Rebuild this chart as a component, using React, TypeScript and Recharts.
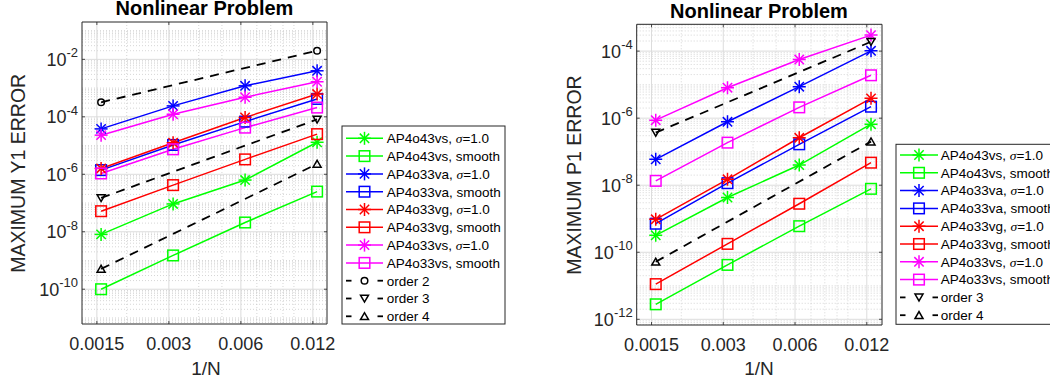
import React from 'react';
import { LineChart, Line, XAxis, YAxis, CartesianGrid, ReferenceArea } from 'recharts';

const FONT = '"Liberation Sans", Arial, Helvetica, sans-serif';
const SERIF = '"Liberation Serif", "DejaVu Serif", serif';
const AXIS = '#262626';

// ---------- data ----------
const invN = [0.0015625, 0.003125, 0.00625, 0.0125];
const xTicks = [0.0015, 0.003, 0.006, 0.012];
const xMinor = [0.002, 0.004, 0.005, 0.007, 0.008, 0.009, 0.01];

// Left panel: maximum Y1 error
const y1_AP4o43vs_sigma = [8.1e-9, 9.3e-8, 6.3e-7, 1.3e-5];
const y1_AP4o43vs_smooth = [1.0e-10, 1.5e-9, 2.1e-8, 2.5e-7];
const y1_AP4o33va_sigma = [3.8e-5, 2.4e-4, 1.2e-3, 4.0e-3];
const y1_AP4o33va_smooth = [1.4e-6, 1.05e-5, 6.8e-5, 4.2e-4];
const y1_AP4o33vg_sigma = [1.6e-6, 1.26e-5, 9.5e-5, 6.2e-4];
const y1_AP4o33vg_smooth = [5.2e-8, 4.2e-7, 3.3e-6, 2.5e-5];
const y1_AP4o33vs_sigma = [2.3e-5, 1.23e-4, 4.8e-4, 1.66e-3];
const y1_AP4o33vs_smooth = [1.07e-6, 7.4e-6, 4.2e-5, 2.1e-4];
const y1_order2 = [3.2e-4, null, null, 2.0e-2];
const y1_order3 = [1.5e-7, null, null, 8.1e-5];
const y1_order4 = [5.1e-10, null, null, 2.3e-6];
const y1Ticks = [1e-10, 1e-8, 1e-6, 1e-4, 1e-2];

// Right panel: maximum P1 error
const p1_AP4o43vs_sigma = [3.2e-10, 4.3e-9, 4.0e-8, 6.6e-7];
const p1_AP4o43vs_smooth = [2.8e-12, 4.2e-11, 6.0e-10, 7.8e-9];
const p1_AP4o33va_sigma = [5.9e-8, 7.8e-7, 8.7e-6, 1.02e-4];
const p1_AP4o33va_smooth = [7.1e-10, 1.15e-8, 1.66e-7, 2.2e-6];
const p1_AP4o33vg_sigma = [9.6e-10, 1.5e-8, 2.6e-7, 3.9e-6];
const p1_AP4o33vg_smooth = [1.12e-11, 1.78e-10, 2.8e-9, 4.7e-8];
const p1_AP4o33vs_sigma = [8.7e-7, 8.1e-6, 5.6e-5, 3.0e-4];
const p1_AP4o33vs_smooth = [1.35e-8, 1.86e-7, 2.1e-6, 1.9e-5];
const p1_order3 = [3.7e-7, null, null, 1.9e-4];
const p1_order4 = [5.2e-11, null, null, 2.0e-7];
const p1Ticks = [1e-12, 1e-10, 1e-8, 1e-6, 1e-4];

const leftXDomain = [0.0013, 0.01375];
const leftYDomain = [Math.pow(10, -11.21), Math.pow(10, -0.7)];
const rightXDomain = [0.0013, 0.0139];
const rightYDomain = [Math.pow(10, -12.17), Math.pow(10, -3.2)];

type MarkerType = 'star' | 'square' | 'circle' | 'tdown' | 'tup';
type Series = { key: string; values: (number | null)[]; color: string; marker: MarkerType; dashed?: boolean; label: string; sigma?: boolean };

const GREEN = '#00ff00';
const BLUE = '#0000ff';
const RED = '#ff0000';
const MAGENTA = '#ff00ff';
const BLACK = '#000000';

const leftSeries: Series[] = [
  { key: 'gs', values: y1_AP4o43vs_sigma, color: GREEN, marker: 'star', label: 'AP4o43vs, ', sigma: true },
  { key: 'gq', values: y1_AP4o43vs_smooth, color: GREEN, marker: 'square', label: 'AP4o43vs, smooth' },
  { key: 'bs', values: y1_AP4o33va_sigma, color: BLUE, marker: 'star', label: 'AP4o33va, ', sigma: true },
  { key: 'bq', values: y1_AP4o33va_smooth, color: BLUE, marker: 'square', label: 'AP4o33va, smooth' },
  { key: 'rs', values: y1_AP4o33vg_sigma, color: RED, marker: 'star', label: 'AP4o33vg, ', sigma: true },
  { key: 'rq', values: y1_AP4o33vg_smooth, color: RED, marker: 'square', label: 'AP4o33vg, smooth' },
  { key: 'ms', values: y1_AP4o33vs_sigma, color: MAGENTA, marker: 'star', label: 'AP4o33vs, ', sigma: true },
  { key: 'mq', values: y1_AP4o33vs_smooth, color: MAGENTA, marker: 'square', label: 'AP4o33vs, smooth' },
  { key: 'o2', values: y1_order2, color: BLACK, marker: 'circle', dashed: true, label: 'order 2' },
  { key: 'o3', values: y1_order3, color: BLACK, marker: 'tdown', dashed: true, label: 'order 3' },
  { key: 'o4', values: y1_order4, color: BLACK, marker: 'tup', dashed: true, label: 'order 4' },
];

const rightSeries: Series[] = [
  { key: 'gs', values: p1_AP4o43vs_sigma, color: GREEN, marker: 'star', label: 'AP4o43vs, ', sigma: true },
  { key: 'gq', values: p1_AP4o43vs_smooth, color: GREEN, marker: 'square', label: 'AP4o43vs, smooth' },
  { key: 'bs', values: p1_AP4o33va_sigma, color: BLUE, marker: 'star', label: 'AP4o33va, ', sigma: true },
  { key: 'bq', values: p1_AP4o33va_smooth, color: BLUE, marker: 'square', label: 'AP4o33va, smooth' },
  { key: 'rs', values: p1_AP4o33vg_sigma, color: RED, marker: 'star', label: 'AP4o33vg, ', sigma: true },
  { key: 'rq', values: p1_AP4o33vg_smooth, color: RED, marker: 'square', label: 'AP4o33vg, smooth' },
  { key: 'ms', values: p1_AP4o33vs_sigma, color: MAGENTA, marker: 'star', label: 'AP4o33vs, ', sigma: true },
  { key: 'mq', values: p1_AP4o33vs_smooth, color: MAGENTA, marker: 'square', label: 'AP4o33vs, smooth' },
  { key: 'o3', values: p1_order3, color: BLACK, marker: 'tdown', dashed: true, label: 'order 3' },
  { key: 'o4', values: p1_order4, color: BLACK, marker: 'tup', dashed: true, label: 'order 4' },
];

function buildRows(series: Series[]) {
  return invN.map((x, i) => {
    const row: Record<string, number | null> = { x };
    series.forEach((s) => { row[s.key] = s.values[i]; });
    return row;
  });
}

function minorValues(domain: number[], majors: number[]) {
  const out: number[] = [];
  const lo = Math.floor(Math.log10(domain[0]));
  const hi = Math.ceil(Math.log10(domain[1]));
  for (let k = lo; k <= hi; k++) {
    for (let m = 1; m <= 9; m++) {
      const v = m * Math.pow(10, k);
      if (v < domain[0] || v > domain[1]) continue;
      if (majors.some((t) => Math.abs(t - v) / v < 1e-9)) continue;
      out.push(v);
    }
  }
  return out;
}

// ---------- markers ----------
function Marker({ type, cx, cy, color }: { type: MarkerType; cx: number; cy: number; color: string }) {
  const sw = 1.5;
  if (type === 'star') {
    const r = 6.5;
    const d = r * 0.72;
    return (
      <g stroke={color} strokeWidth={sw} fill="none">
        <line x1={cx} y1={cy - r} x2={cx} y2={cy + r} />
        <line x1={cx - r} y1={cy} x2={cx + r} y2={cy} />
        <line x1={cx - d} y1={cy - d} x2={cx + d} y2={cy + d} />
        <line x1={cx - d} y1={cy + d} x2={cx + d} y2={cy - d} />
      </g>
    );
  }
  if (type === 'square') {
    const h = 5.3;
    return <rect x={cx - h} y={cy - h} width={2 * h} height={2 * h} fill="none" stroke={color} strokeWidth={sw} />;
  }
  if (type === 'circle') {
    return <circle cx={cx} cy={cy} r={3.3} fill="none" stroke={color} strokeWidth={sw} />;
  }
  if (type === 'tdown') {
    return <polygon points={`${cx - 4},${cy - 3.3} ${cx + 4},${cy - 3.3} ${cx},${cy + 3.6}`} fill="none" stroke={color} strokeWidth={sw} />;
  }
  return <polygon points={`${cx - 4},${cy + 3.3} ${cx + 4},${cy + 3.3} ${cx},${cy - 3.6}`} fill="none" stroke={color} strokeWidth={sw} />;
}

const makeDot = (s: Series) => (props: any) => {
  const { cx, cy, index, value } = props;
  if (cx == null || cy == null || value == null || (Array.isArray(value) && value[1] == null) || isNaN(cy)) {
    return <g key={`${s.key}-${index}`} />;
  }
  return (
    <g key={`${s.key}-${index}`}>
      <Marker type={s.marker} cx={cx} cy={cy} color={s.color} />
    </g>
  );
};

// ---------- ticks ----------
const makeXTick = (top: number, bottom: number) => (props: any) => {
  const { x, payload } = props;
  return (
    <g>
      <line x1={x} x2={x} y1={bottom} y2={bottom - 3} stroke={AXIS} strokeWidth={0.8} />
      <line x1={x} x2={x} y1={top} y2={top + 3} stroke={AXIS} strokeWidth={0.8} />
      <text x={x} y={bottom + 26} textAnchor="middle" fontSize={18} fill={AXIS} fontFamily={FONT}>
        {String(payload.value)}
      </text>
    </g>
  );
};

const makeYTick = (left: number, right: number) => (props: any) => {
  const { y, payload } = props;
  const exp = Math.round(Math.log10(payload.value));
  return (
    <g>
      <line x1={left} x2={left + 3} y1={y} y2={y} stroke={AXIS} strokeWidth={0.8} />
      <line x1={right} x2={right - 3} y1={y} y2={y} stroke={AXIS} strokeWidth={0.8} />
      <text x={left - 4} y={y + 6.5} textAnchor="end" fontSize={18} fill={AXIS} fontFamily={FONT}>
        <tspan>10</tspan>
        <tspan dy={-8.5} fontSize={13}>{String(exp)}</tspan>
      </text>
    </g>
  );
};

// ---------- panel ----------
type PanelProps = {
  left: number;
  width: number;
  series: Series[];
  xDomain: number[];
  yDomain: number[];
  yTicks: number[];
  margin: { top: number; right: number; bottom: number; left: number };
  yAxisWidth: number;
};

function Panel({ left, width, series, xDomain, yDomain, yTicks, margin, yAxisWidth }: PanelProps) {
  const height = 383;
  const xAxisHeight = 30;
  const plotLeft = margin.left + yAxisWidth;
  const plotRight = width - margin.right;
  const plotTop = margin.top;
  const plotBottom = height - margin.bottom - xAxisHeight;
  const rows = buildRows(series);
  const yMinor = minorValues(yDomain, yTicks);
  return (
    <div style={{ position: 'absolute', left, top: 0, width, height }}>
      <LineChart width={width} height={height} data={rows} margin={margin}>
        <CartesianGrid
          horizontalValues={yMinor}
          verticalValues={xMinor}
          stroke="#c4c4c4"
          strokeWidth={0.7}
          strokeDasharray="1 2"
        />
        <CartesianGrid horizontalValues={yTicks} verticalValues={xTicks} stroke="#dcdcdc" strokeWidth={1} />
        <XAxis
          dataKey="x"
          type="number"
          scale="log"
          domain={xDomain}
          allowDataOverflow
          ticks={xTicks}
          interval={0}
          tickLine={false}
          axisLine={false}
          tickSize={0}
          tickMargin={0}
          height={xAxisHeight}
          tick={makeXTick(plotTop, plotBottom)}
        />
        <YAxis
          type="number"
          scale="log"
          domain={yDomain}
          allowDataOverflow
          ticks={yTicks}
          interval={0}
          tickLine={false}
          axisLine={false}
          tickSize={0}
          tickMargin={4}
          width={yAxisWidth}
          tick={makeYTick(plotLeft, plotRight)}
        />
        <ReferenceArea
          x1={xDomain[0]}
          x2={xDomain[1]}
          y1={yDomain[0]}
          y2={yDomain[1]}
          fill="none"
          fillOpacity={0}
          stroke={AXIS}
          strokeWidth={1}
          ifOverflow="visible"
        />
        {series.map((s) => (
          <Line
            key={s.key}
            dataKey={s.key}
            type="linear"
            stroke={s.color}
            strokeWidth={s.dashed ? 1.8 : 1.5}
            strokeDasharray={s.dashed ? '9 7' : undefined}
            connectNulls
            dot={makeDot(s)}
            activeDot={false}
            isAnimationActive={false}
          />
        ))}
      </LineChart>
    </div>
  );
}

// ---------- legend ----------
function LegendBox({ x, y, width, height, firstRow, lineX0, lineX1, textX, series }: {
  x: number; y: number; width: number; height: number; firstRow: number; lineX0: number; lineX1: number; textX: number; series: Series[];
}) {
  const step = 17.8;
  const mid = (lineX0 + lineX1) / 2;
  return (
    <g>
      <rect x={x} y={y} width={width} height={height} fill="#ffffff" stroke={AXIS} strokeWidth={1} />
      {series.map((s, i) => {
        const ry = firstRow + i * step;
        return (
          <g key={s.key}>
            {s.dashed ? (
              <g>
                <line x1={lineX0} x2={lineX0 + 5.5} y1={ry} y2={ry} stroke={s.color} strokeWidth={1.8} />
                <line x1={lineX1 - 5.5} x2={lineX1} y1={ry} y2={ry} stroke={s.color} strokeWidth={1.8} />
              </g>
            ) : (
              <line x1={lineX0} x2={lineX1} y1={ry} y2={ry} stroke={s.color} strokeWidth={1.5} />
            )}
            <Marker type={s.marker} cx={mid} cy={ry} color={s.color} />
            <text x={textX} y={ry + 4.8} fontSize={13.5} fontFamily={FONT} fill="#000">
              <tspan>{s.label}</tspan>
              {s.sigma ? <tspan fontFamily={SERIF} fontStyle="italic">σ</tspan> : null}
              {s.sigma ? <tspan>=1.0</tspan> : null}
            </text>
          </g>
        );
      })}
    </g>
  );
}

export default function App() {
  return (
    <div style={{ position: 'absolute', left: 0, top: 0, width: 1050, height: 383, overflow: 'hidden', background: '#ffffff', fontFamily: FONT }}>
      <Panel
        left={0}
        width={340}
        series={leftSeries}
        xDomain={leftXDomain}
        yDomain={leftYDomain}
        yTicks={y1Ticks}
        margin={{ top: 22, right: 13, bottom: 29, left: 0 }}
        yAxisWidth={82}
      />
      <Panel
        left={560}
        width={340}
        series={rightSeries}
        xDomain={rightXDomain}
        yDomain={rightYDomain}
        yTicks={p1Ticks}
        margin={{ top: 24.3, right: 18, bottom: 28, left: 0 }}
        yAxisWidth={76.7}
      />
      <svg width={1050} height={383} style={{ position: 'absolute', left: 0, top: 0, pointerEvents: 'none' }}>
        <text x={204.5} y={15} textAnchor="middle" fontSize={20} fontWeight="bold" fontFamily={FONT} fill="#000">Nonlinear Problem</text>
        <text x={759} y={17.5} textAnchor="middle" fontSize={20} fontWeight="bold" fontFamily={FONT} fill="#000">Nonlinear Problem</text>
        <text transform="translate(25.3,173.3) rotate(-90)" textAnchor="middle" fontSize={19.5} fontFamily={FONT} fill={AXIS}>MAXIMUM Y1 ERROR</text>
        <text transform="translate(580.7,175) rotate(-90)" textAnchor="middle" fontSize={19.5} fontFamily={FONT} fill={AXIS}>MAXIMUM P1 ERROR</text>
        <text x={206} y={375} textAnchor="middle" fontSize={19} fontFamily={FONT} fill={AXIS}>1/N</text>
        <text x={759} y={375} textAnchor="middle" fontSize={19} fontFamily={FONT} fill={AXIS}>1/N</text>
        <LegendBox x={342} y={126} width={163} height={198} firstRow={138.3} lineX0={346} lineX1={383} textX={386.7} series={leftSeries} />
        <LegendBox x={896} y={144.3} width={170} height={180} firstRow={155} lineX0={900} lineX1={938} textX={940.7} series={rightSeries} />
      </svg>
    </div>
  );
}
